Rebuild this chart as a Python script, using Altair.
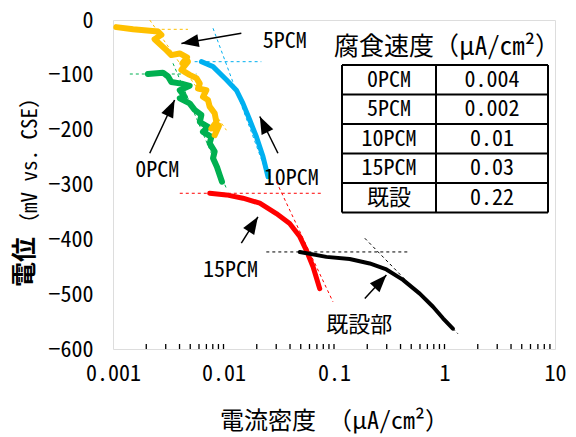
import math
import altair as alt
import pandas as pd

FONT = "Noto Sans Mono CJK JP, Noto Sans CJK JP, sans-serif"

# ---------------- data (current density uA/cm2, potential mV vs CSE) ----------------
series_names = ["0PCM", "5PCM", "10PCM", "15PCM", "既設部"]
series_colors = ["#00B050", "#FFC000", "#00B0F0", "#FF0000", "#000000"]

pcm0_x = [0.00207, 0.00283, 0.00315, 0.00337, 0.00416, 0.00494, 0.00402, 0.00446, 0.00402,
          0.00494, 0.00548, 0.00631, 0.0061, 0.00724, 0.00652, 0.00777, 0.0075, 0.00832,
          0.00804, 0.00873, 0.00924, 0.00969]
pcm0_y = [-98.5, -96, -103, -113, -116, -120, -128, -140, -143, -152, -164, -173, -186,
          -195, -204, -213, -225, -240, -252, -268, -283, -295]

pcm5_x = [0.00107, 0.00152, 0.00215, 0.00255, 0.00274, 0.00238, 0.00304, 0.00337, 0.00402,
          0.00468, 0.00425, 0.00477, 0.00416, 0.00494, 0.00569, 0.0061, 0.00588, 0.0070,
          0.00652, 0.00724, 0.0075, 0.00832, 0.00862, 0.00777, 0.0091, 0.00832]
pcm5_y = [-13, -17, -19.5, -21, -27, -35, -55, -64, -61, -68, -79, -76, -91, -100, -106,
          -116, -125, -128, -140, -146, -158, -170, -186, -198, -193, -210]

pcm10_x = [0.00631, 0.00804, 0.01062, 0.01308, 0.0150, 0.01725, 0.01985, 0.02277, 0.0253]
pcm10_y = [-76, -85, -109, -128, -152, -182, -213, -249, -286]

pcm15_x = [0.0075, 0.01062, 0.0150, 0.0213, 0.0301, 0.0397, 0.0490, 0.0562, 0.0646, 0.0743]
pcm15_y = [-316, -319, -325, -334, -353, -371, -395, -420, -450, -490]

exist_x = [0.0490, 0.0853, 0.1387, 0.2104, 0.298, 0.421, 0.597, 0.787, 0.969, 1.19]
exist_y = [-423, -432, -436, -444, -455, -474, -499, -523, -544, -563]

# Tafel construction lines: (x1, y1, x2, y2)
tafel_h = {
    "0PCM": (0.00142, -98.5, 0.00569, -98.5),
    "5PCM": (0.00215, -17, 0.00477, -17),
    "10PCM": (0.00548, -76, 0.0220, -76),
    "15PCM": (0.00402, -316, 0.0794, -316),
    "既設部": (0.0244, -423, 0.487, -423),
}
tafel_s = {
    "0PCM": (0.00349, -79, 0.01062, -307),
    "5PCM": (0.00215, 0, 0.01062, -201),
    "10PCM": (0.00804, -15, 0.0262, -295),
    "15PCM": (0.0301, -295, 0.0979, -514),
    "既設部": (0.190, -398, 1.32, -572),
}

# annotations: label, label position, arrow tail, arrow head
ann_text = ["5PCM", "0PCM", "10PCM", "15PCM", "既設部"]
ann_x = [0.0358, 0.00251, 0.0410, 0.0116, 0.169]
ann_y = [-38, -274, -288, -456, -557]
arrow_tail_x = [0.0145, 0.00215, 0.0311, 0.0145, 0.190]
arrow_tail_y = [-24, -243, -243, -407, -508]
arrow_head_x = [0.00416, 0.00361, 0.0213, 0.0205, 0.298]
arrow_head_y = [-43, -146, -176, -359, -465]

# corrosion-rate table
table_title = "腐食速度（μA/cm²）"
table_names = ["0PCM", "5PCM", "10PCM", "15PCM", "既設"]
table_rates = ["0.004", "0.002", "0.01", "0.03", "0.22"]

x_tick_labels = [0.001, 0.01, 0.1, 1, 10]
y_tick_labels = [-600, -500, -400, -300, -200, -100, 0]

# ---------------- layout ----------------
W, H = 442, 329
XMIN, XMAX, YMIN, YMAX = 0.001, 10, -600, 0

def px(x):
    return (math.log10(x) - math.log10(XMIN)) / (math.log10(XMAX) - math.log10(XMIN)) * W

def py(y):
    return (YMAX - y) / (YMAX - YMIN) * H

xscale = alt.Scale(type="log", domain=[XMIN, XMAX])
yscale = alt.Scale(domain=[YMIN, YMAX])
color_scale = alt.Scale(domain=series_names, range=series_colors)

x_axis = alt.Axis(values=x_tick_labels, format="~g", ticks=False, tickSize=0, domain=False,
                  grid=False, labelFont=FONT, labelFontSize=22, labelColor="black",
                  labelPadding=14, labelFlush=False,
                  title="電流密度 （μA/cm²）", titleFont=FONT, titleFontSize=24,
                  titleFontWeight="normal", titleColor="black", titleY=72, titleBaseline="middle")
y_axis = alt.Axis(values=y_tick_labels, format="d", ticks=False, tickSize=0, domain=False,
                  grid=False, labelFont=FONT, labelFontSize=22, labelColor="black",
                  labelPadding=20, labelFlush=False, title=None)

def X(field="x", **kw):
    return alt.X(f"{field}:Q", scale=xscale, axis=x_axis, **kw)

def Y(field="y", **kw):
    return alt.Y(f"{field}:Q", scale=yscale, axis=y_axis, **kw)

# curves
rows = []
for name, xs, ys in [("0PCM", pcm0_x, pcm0_y), ("5PCM", pcm5_x, pcm5_y),
                     ("10PCM", pcm10_x, pcm10_y), ("15PCM", pcm15_x, pcm15_y),
                     ("既設部", exist_x, exist_y)]:
    for i, (a, b) in enumerate(zip(xs, ys)):
        rows.append({"x": a, "y": b, "s": name, "i": i})
curves = pd.DataFrame(rows)

drows = []
for name in series_names:
    for kind, seg in (("h", tafel_h[name]), ("s", tafel_s[name])):
        drows.append({"x": seg[0], "y": seg[1], "s": name, "seg": name + kind, "i": 0})
        drows.append({"x": seg[2], "y": seg[3], "s": name, "seg": name + kind, "i": 1})
dashed = pd.DataFrame(drows)

arrows = pd.DataFrame({
    "x": arrow_tail_x, "y": arrow_tail_y, "x2": arrow_head_x, "y2": arrow_head_y,
})
arrows["angle"] = [
    (math.degrees(math.atan2(px(hx) - px(tx), -(py(hy) - py(ty))))) % 360
    for tx, ty, hx, hy in zip(arrow_tail_x, arrow_tail_y, arrow_head_x, arrow_head_y)
]
labels = pd.DataFrame({"x": ann_x, "y": ann_y, "t": ann_text})

# table layout (pixels within the plot area)
T_LEFT, T_MID, T_RIGHT, T_TOP, T_ROW = 229, 323, 435, 45, 29.5
tcells = []
for r, (n, v) in enumerate(zip(table_names, table_rates)):
    yc = T_TOP + T_ROW * (r + 0.5)
    tcells.append({"px": (T_LEFT + T_MID) / 2, "py": yc, "t": n})
    tcells.append({"px": (T_MID + T_RIGHT) / 2, "py": yc, "t": v})
tcells = pd.DataFrame(tcells)
tlines = []
for r in range(len(table_names) + 1):
    yy = T_TOP + T_ROW * r
    tlines.append({"px": T_LEFT, "px2": T_RIGHT, "py": yy, "py2": yy})
for xx in (T_LEFT, T_MID, T_RIGHT):
    tlines.append({"px": xx, "px2": xx, "py": T_TOP, "py2": T_TOP + T_ROW * len(table_names)})
tlines = pd.DataFrame(tlines)

# inward minor/major ticks on x axis
minor = pd.DataFrame({"x": [k * 10 ** e for e in range(-3, 1) for k in range(1, 10)][1:]})

# ---------------- layers ----------------
dash_layer = alt.Chart(dashed).mark_line(strokeWidth=1, strokeDash=[3, 3]).encode(
    x=X(), y=Y(), color=alt.Color("s:N", scale=color_scale, legend=None),
    detail="seg:N", order="i:Q")

curve_noisy = alt.Chart(curves[curves.s.isin(["0PCM", "5PCM"])]).mark_line(
    strokeWidth=6, strokeJoin="round", strokeCap="round").encode(
    x=X(), y=Y(), color=alt.Color("s:N", scale=color_scale, legend=None),
    detail="s:N", order="i:Q")
curve_smooth = alt.Chart(curves[curves.s.isin(["10PCM", "15PCM"])]).mark_line(
    strokeWidth=5, strokeJoin="round", strokeCap="round").encode(
    x=X(), y=Y(), color=alt.Color("s:N", scale=color_scale, legend=None),
    detail="s:N", order="i:Q")
curve_black = alt.Chart(curves[curves.s == "既設部"]).mark_line(
    strokeWidth=4, strokeJoin="round", strokeCap="round").encode(
    x=X(), y=Y(), color=alt.Color("s:N", scale=color_scale, legend=None),
    detail="s:N", order="i:Q")

shaft = alt.Chart(arrows).mark_rule(color="black", strokeWidth=1.5).encode(
    x=X(), y=Y(), x2="x2:Q", y2="y2:Q")
head = alt.Chart(arrows).mark_point(
    shape="M0,0L0.75,2L-0.75,2Z", filled=True, color="black", opacity=1, size=300).encode(
    x=X("x2"), y=Y("y2"), angle=alt.Angle("angle:Q", scale=None))

ann = alt.Chart(labels).mark_text(font=FONT, fontSize=22, color="black").encode(
    x=X(), y=Y(), text="t:N")

ticks = alt.Chart(minor).mark_rule(color="black", strokeWidth=1.3).encode(
    x=X(), y=alt.value(H), y2=alt.value(H - 5))

grid = alt.Chart(tlines).mark_rule(color="black", strokeWidth=2).encode(
    x=alt.X("px:Q", scale=None, axis=None), x2="px2:Q",
    y=alt.Y("py:Q", scale=None, axis=None), y2="py2:Q")
cells = alt.Chart(tcells).mark_text(font=FONT, fontSize=22, color="black").encode(
    x=alt.X("px:Q", scale=None, axis=None), y=alt.Y("py:Q", scale=None, axis=None), text="t:N")
ttitle = alt.Chart(pd.DataFrame({"t": [table_title]})).mark_text(
    font=FONT, fontSize=25, color="black").encode(
    x=alt.value(334), y=alt.value(27), text="t:N")

ytitle1 = alt.Chart(pd.DataFrame({"t": ["電位"]})).mark_text(
    font=FONT, fontSize=25, fontWeight="bold", color="black", angle=270,
    align="left", baseline="middle").encode(x=alt.value(-88), y=alt.value(267), text="t:N")
ytitle2 = alt.Chart(pd.DataFrame({"t": ["（mV vs. CSE）"]})).mark_text(
    font=FONT, fontSize=21, color="black", angle=270,
    align="left", baseline="middle").encode(x=alt.value(-82), y=alt.value(214), text="t:N")

chart = alt.layer(
    dash_layer, curve_noisy, curve_smooth, curve_black, shaft, head, ann, ticks,
    grid, cells, ttitle, ytitle1, ytitle2,
).properties(
    width=W, height=H,
    autosize=alt.AutoSizeParams(type="none"),
    padding={"left": 113, "top": 20, "right": 21, "bottom": 88},
).configure_view(stroke="black", strokeWidth=1.5).configure(background="white")

chart.save("out.html", embed_options={"renderer": "svg", "actions": False})
